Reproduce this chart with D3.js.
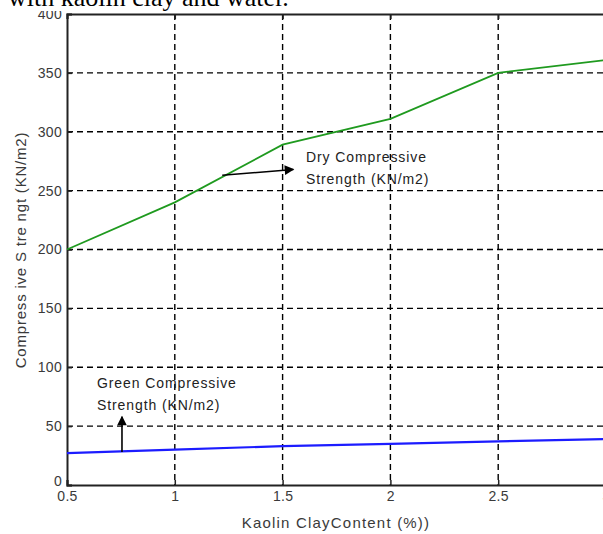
<!DOCTYPE html>
<html>
<head>
<meta charset="utf-8">
<script src="https://cdn.jsdelivr.net/npm/d3@7"></script>
<style>
  html, body { margin: 0; padding: 0; background: #fff; }
  svg { display: block; }
</style>
</head>
<body>
<svg id="chart" width="603" height="534"></svg>
<script>
// Kaolin clay content (%) on the x axis
const clayContent = [0.5, 1, 1.5, 2, 2.5, 3];
// Dry compressive strength (KN/m2)
const dryStrength = [200, 240, 289, 311, 350, 361];
// Green compressive strength (KN/m2)
const greenStrength = [27, 30, 33, 35, 37, 39];

const xTicks = [0.5, 1, 1.5, 2, 2.5, 3];
const xTickLabels = ["0.5", "1", "1.5", "2", "2.5", "3"];
const yTicks = [0, 50, 100, 150, 200, 250, 300, 350, 400];

const svg = d3.select("#chart");
const plotLeft = 67, plotRight = 606, plotTop = 14, plotBottom = 485;

const x = d3.scaleLinear().domain([0.5, 3]).range([plotLeft, plotRight]);
const y = d3.scaleLinear().domain([0, 400]).range([plotBottom, plotTop]);

// dashed grid
const grid = svg.append("g")
  .attr("stroke", "#000")
  .attr("stroke-width", 1.4)
  .attr("stroke-dasharray", "6,4");
grid.selectAll("line.h")
  .data(yTicks.filter(v => v > 0 && v < 400))
  .join("line")
  .attr("class", "h")
  .attr("x1", plotLeft).attr("x2", plotRight)
  .attr("y1", d => y(d)).attr("y2", d => y(d));
grid.selectAll("line.v")
  .data(xTicks.filter(v => v > 0.5 && v < 3))
  .join("line")
  .attr("class", "v")
  .attr("x1", d => x(d)).attr("x2", d => x(d))
  .attr("y1", plotTop).attr("y2", plotBottom);

// axes
const fontFamily = "'Liberation Sans', Arial, sans-serif";
const yAxis = svg.append("g")
  .attr("transform", `translate(${plotLeft},0)`)
  .call(d3.axisLeft(y).tickValues(yTicks).tickSize(-5).tickPadding(5).tickFormat(d3.format("d")));
const xAxis = svg.append("g")
  .attr("transform", `translate(0,${plotBottom})`)
  .call(d3.axisBottom(x).tickValues(xTicks).tickSize(-5).tickPadding(6)
    .tickFormat((d, i) => xTickLabels[i]));
const topAxis = svg.append("g")
  .attr("transform", `translate(0,${plotTop})`)
  .call(d3.axisTop(x).tickValues(xTicks).tickSize(-5).tickFormat(""));

[yAxis, xAxis, topAxis].forEach(g => {
  g.select(".domain").attr("stroke", "#222").attr("stroke-width", 2);
  g.selectAll(".tick line").attr("stroke", "#222").attr("stroke-width", 1.5);
  g.selectAll("text")
    .attr("font-family", fontFamily)
    .attr("font-size", 14)
    .attr("fill", "#3a3a3a")
    .attr("letter-spacing", 0.3);
});
// the zero label sits a little above the corner, clear of "0.5"
yAxis.selectAll(".tick").filter(d => d === 0).select("text").attr("dy", "0.05em");

// series lines
const line = (vals) => d3.line()
  .x((d, i) => x(clayContent[i]))
  .y(d => y(d))(vals);

svg.append("path")
  .attr("d", line(dryStrength))
  .attr("fill", "none")
  .attr("stroke", "#1f9a1f")
  .attr("stroke-width", 1.8);

svg.append("path")
  .attr("d", line(greenStrength))
  .attr("fill", "none")
  .attr("stroke", "#1c1cff")
  .attr("stroke-width", 2.2);

// annotation arrows
svg.append("defs").append("marker")
  .attr("id", "head")
  .attr("viewBox", "0 0 10 10")
  .attr("refX", 9).attr("refY", 5)
  .attr("markerWidth", 7).attr("markerHeight", 6)
  .attr("markerUnits", "strokeWidth")
  .attr("orient", "auto")
  .append("path")
  .attr("d", "M0,0 L10,5 L0,10 z")
  .attr("fill", "#000");

svg.append("line")
  .attr("x1", x(1.22)).attr("y1", y(263))
  .attr("x2", x(1.55)).attr("y2", y(268))
  .attr("stroke", "#000").attr("stroke-width", 1.6)
  .attr("marker-end", "url(#head)");

svg.append("line")
  .attr("x1", x(0.755)).attr("y1", y(28))
  .attr("x2", x(0.755)).attr("y2", y(58))
  .attr("stroke", "#000").attr("stroke-width", 1.6)
  .attr("marker-end", "url(#head)");

// annotation labels
const note = (px, py, lines) => {
  const t = svg.append("text")
    .attr("font-family", fontFamily)
    .attr("font-size", 14)
    .attr("fill", "#222")
    .attr("letter-spacing", 0.9);
  lines.forEach((s, i) => {
    t.append("tspan").attr("x", px).attr("y", py + i * 22).text(s);
  });
};
note(306, 162, ["Dry Compressive", "Strength (KN/m2)"]);
note(97, 388, ["Green Compressive", "Strength (KN/m2)"]);

// axis titles
svg.append("text")
  .attr("x", 336).attr("y", 528)
  .attr("text-anchor", "middle")
  .attr("font-family", fontFamily)
  .attr("font-size", 15)
  .attr("fill", "#3a3a3a")
  .attr("letter-spacing", 1.2)
  .text("Kaolin ClayContent (%))");

svg.append("text")
  .attr("transform", "translate(26,250) rotate(-90)")
  .attr("text-anchor", "middle")
  .attr("font-family", fontFamily)
  .attr("font-size", 15)
  .attr("fill", "#3a3a3a")
  .attr("letter-spacing", 0.8)
  .text("Compress ive S tre ngt (KN/m2)");

// caption line of the surrounding document, cut at the top edge,
// on a white band that trims the top of the "400" label
svg.append("rect")
  .attr("x", 0).attr("y", 0)
  .attr("width", 340).attr("height", 11)
  .attr("fill", "#fff");
svg.append("text")
  .attr("x", 8).attr("y", 6)
  .attr("font-family", "'Liberation Serif', 'Times New Roman', serif")
  .attr("font-size", 26)
  .attr("fill", "#000")
  .text("with kaolin clay and water.");
</script>
</body>
</html>
